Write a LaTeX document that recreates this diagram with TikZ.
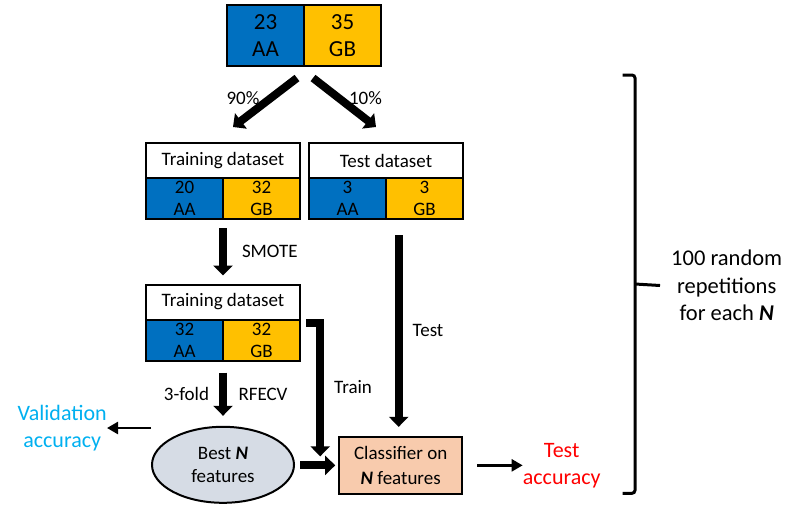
\documentclass[tikz,border=0pt]{standalone}
\usepackage{fontspec}
\setmainfont{Carlito}
\usetikzlibrary{arrows.meta,positioning,shapes.geometric,calc}
\definecolor{aablue}{HTML}{0070C0}
\definecolor{gbgold}{HTML}{FFC000}
\definecolor{bestgrey}{HTML}{D6DCE5}
\definecolor{clfpeach}{HTML}{F8CBAD}
\definecolor{valcyan}{HTML}{00B0F0}
\definecolor{testred}{HTML}{FF0000}
\newcommand{\bN}{\textbf{\textit{N}}}

\begin{document}
\begin{tikzpicture}[x=1pt,y=-1pt,node distance=0pt,
	cell/.style={draw,line width=2pt,outer sep=0pt,inner sep=0pt,minimum width=77pt,minimum height=41pt,align=center,font=\fontsize{19}{22}\selectfont},
	bigcell/.style={cell,minimum height=61pt,font=\fontsize{23}{27}\selectfont},
	head/.style={cell,fill=white,minimum width=154pt,minimum height=35pt},
	aa/.style={fill=aablue}, gb/.style={fill=gbgold},
	big/.style={line width=8pt,-{Triangle[width=19pt,length=10pt]}},
	thin/.style={line width=2.5pt,-{Triangle[width=12pt,length=11pt]}},
	lbl/.style={inner sep=0pt,font=\fontsize{19}{22}\selectfont},
	note/.style={inner sep=0pt,align=center,font=\fontsize{22}{27}\selectfont},
	brace/.style={line width=3pt,rounded corners=3pt}]
	\useasboundingbox (0,0) rectangle (799,506);

	% full dataset
	\node[bigcell,aa] (aa0) at (265.5,35.5) {23\\AA};
	\node[bigcell,gb] (gb0) [right=of aa0]  {35\\GB};

	% split
	\node[head]    (trh)  at (223,160.5) {Training dataset};
	\node[cell,aa] (traa) [below right=of trh.south west] {20\\AA};
	\node[cell,gb] (trgb) [right=of traa] {32\\GB};
	\node[head]    (tsh)  at (386,160.5) {Test dataset};
	\node[cell,aa] (tsaa) [below right=of tsh.south west] {3\\AA};
	\node[cell,gb] (tsgb) [right=of tsaa] {3\\GB};

	% after SMOTE
	\node[head]     (tr2h)  at (223,302) {Training dataset};
	\node[cell,aa]  (tr2aa) [below right=of tr2h.south west] {32\\AA};
	\node[cell,gb]  (tr2gb) [right=of tr2aa] {32\\GB};

	\node[ellipse,draw,line width=2pt,fill=bestgrey,minimum width=142pt,minimum height=76pt,inner sep=0pt,align=center,font=\fontsize{19}{23}\selectfont] (best) at (223,464.8) {Best \bN\\features};
	\node[draw,line width=2pt,fill=clfpeach,minimum width=123pt,minimum height=57pt,inner sep=0pt,align=center,font=\fontsize{19}{25}\selectfont] (clf) at (400.7,465.35) {Classifier on\\\bN{} features};

	\node[note,text=valcyan,anchor=east] (valacc)  at (107,428) {Validation\\accuracy};
	\node[note,text=testred]             (testacc) at (561.7,465.35) {Test\\accuracy};
	\node[note,font=\fontsize{22.5}{27.3}\selectfont] (reps) at (726.7,285.5) {100 random\\repetitions\\for each \bN};

	\path[big] ([xshift=-7pt,yshift=-12pt]aa0.south east) edge node[lbl,xshift=-22pt,yshift=4.5pt] {90\%} ([xshift=10pt,yshift=16pt]trh.north);
	\path[big] ([xshift=9pt,yshift=-12pt]gb0.south west) edge node[lbl,xshift=21pt,yshift=4.5pt] {10\%} ([xshift=-10pt,yshift=16pt]tsh.north);
	\path[big] ([yshift=-9pt]traa.south east) edge node[lbl,right=15pt] {SMOTE} ([yshift=9pt]tr2h.north);
	\path[big] ($(tsgb.south west -| clf.north)+(-2,16)$) edge node[lbl,right=10pt] {Test} ([xshift=-2pt,yshift=9pt]clf.north);
	\path[big] ([yshift=-12pt]tr2aa.south east) edge node[lbl,left=10pt] {3-fold} node[lbl,right=11.5pt] {RFECV} ([yshift=10pt]best.north);
	\draw[big] ([xshift=6pt,yshift=-3pt]tr2gb.north east) -| node[lbl,pos=0.74,right=10pt] {Train} ([xshift=-18pt,yshift=9pt]clf.west);
	\path[big] ($(best.east |- clf.west)+(5,0)$) edge ([xshift=-3pt]clf.west);

	\path[thin] (best.west |- valacc.east) edge (valacc.east);
	\path[thin] ([xshift=14pt]clf.east) edge (testacc.west);

	% repetitions bracket
	\draw[brace] (622.7,75) -- (635,75) -- (635,493.3) -- (622.7,493.3);
	\draw[brace] (635,284) -- ([xshift=-11pt]reps.west);
\end{tikzpicture}
\end{document}
